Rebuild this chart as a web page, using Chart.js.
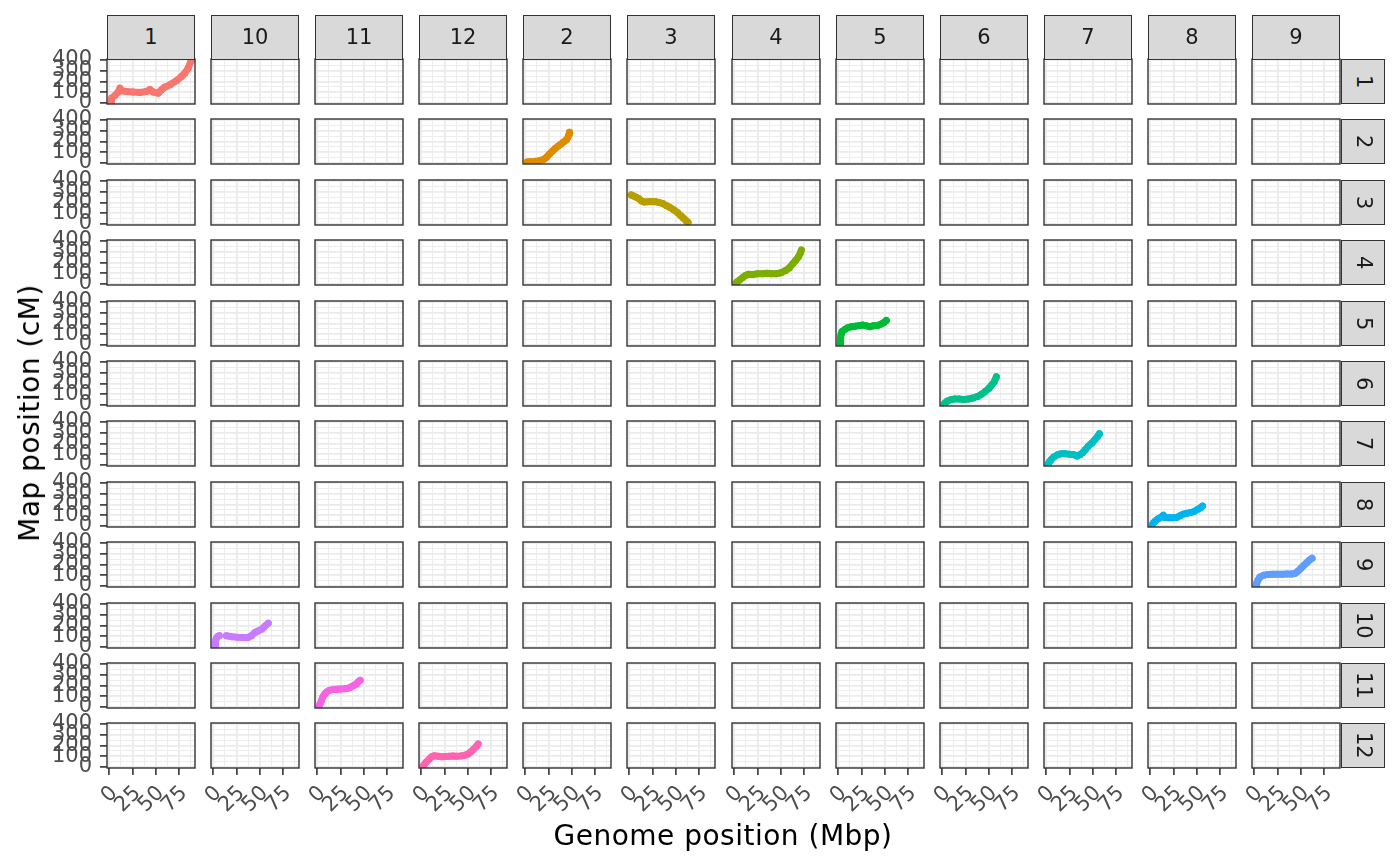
<!DOCTYPE html>
<html><head><meta charset="utf-8">
<script src="https://cdn.jsdelivr.net/npm/chart.js@4/dist/chart.umd.min.js"></script>
<style>
html,body{margin:0;padding:0;background:#fff;}
#wrap{position:relative;width:1400px;height:866px;overflow:hidden;font-family:"DejaVu Sans",sans-serif;background:#fff;}
canvas{position:absolute;}
.strip{position:absolute;box-sizing:border-box;background:#D9D9D9;border:1.3px solid #333;color:#1A1A1A;font-size:21px;display:flex;align-items:center;justify-content:center;line-height:1;}
.vert{writing-mode:vertical-rl;}
.title{position:absolute;color:#000;font-size:28px;line-height:28px;letter-spacing:0.5px;white-space:nowrap;}
</style></head><body><div id="wrap"></div>
<script>
// facet labels (columns are sorted as text, rows numerically)
const facetCols = ['1','10','11','12','2','3','4','5','6','7','8','9'];
const facetRows = ['1','2','3','4','5','6','7','8','9','10','11','12'];
const xMajor = [0, 25, 50, 75];
const xMinor = [12.5, 37.5, 62.5, 87.5];
const yMajor = [0, 100, 200, 300, 400];
const yMinor = [50, 150, 250, 350];
const xRange = [-2.5, 92];
const yRange = [-9, 409];
const xTitle = 'Genome position (Mbp)';
const yTitle = 'Map position (cM)';
const colors = ['#F8766D','#DE8C00','#B79F00','#7CAE00','#00BA38','#00C08B','#00BFC4','#00B4F0','#619CFF','#C77CFF','#F564E3','#FF64B0'];

// genome position (Mbp) and map position (cM) per chromosome
const chr1Pos = [2, 2.5, 6, 9.6, 11.4, 13.2, 18.6, 25.7, 32.9, 40, 43.6, 47, 52.5, 56, 59.6, 65, 72, 77.5, 81, 84.6, 87.7];
const chr1Map = [12, 46, 71, 102, 138, 114, 108, 102, 98, 108, 126, 102, 92, 123, 148, 169, 206, 246, 277, 323, 390];
const chr2Pos = [2, 5, 10, 15, 20, 23, 26, 29, 32, 35, 38, 41, 44, 46, 47, 47.5];
const chr2Map = [10, 12, 15, 22, 35, 55, 85, 110, 135, 155, 175, 195, 215, 245, 270, 285];
const chr3Pos = [2, 4, 7, 10, 13, 16, 20, 24, 28, 32, 36, 40, 44, 48, 52, 55, 58, 61, 63];
const chr3Map = [270, 262, 250, 238, 215, 205, 208, 210, 208, 200, 190, 170, 152, 130, 105, 80, 55, 30, 15];
const chr4Pos = [2, 3, 6, 9, 12, 15, 20, 25, 30, 35, 40, 45, 50, 55, 59, 63, 66, 69, 71, 72];
const chr4Map = [10, 20, 40, 60, 80, 90, 88, 95, 95, 100, 95, 95, 105, 125, 150, 190, 220, 255, 290, 315];
const chr5Pos = [2, 2.3, 2.6, 3, 4, 7, 10, 14, 18, 22, 26, 30, 34, 38, 42, 46, 49, 51.5];
const chr5Map = [12, 40, 70, 100, 125, 145, 160, 170, 175, 180, 185, 178, 170, 180, 182, 195, 210, 228];
const chr6Pos = [2, 3, 5, 9, 13, 18, 23, 28, 33, 38, 42, 46, 50, 53, 56, 58];
const chr6Map = [10, 18, 35, 50, 55, 55, 52, 55, 65, 80, 100, 125, 155, 185, 220, 262];
const chr7Pos = [2, 3, 5, 8, 12, 16, 20, 25, 29, 33, 36, 39, 42, 45, 49, 52, 55, 57];
const chr7Map = [10, 25, 50, 75, 95, 105, 105, 100, 98, 85, 95, 115, 145, 175, 205, 235, 265, 290];
const chr8Pos = [2, 3, 5, 8, 11, 14, 16, 20, 24, 28, 32, 35, 39, 43, 47, 51, 54, 56];
const chr8Map = [10, 25, 45, 65, 80, 100, 80, 78, 78, 80, 95, 110, 118, 125, 135, 155, 170, 185];
const chr9Pos = [2, 2.5, 4, 6, 10, 15, 20, 25, 30, 35, 40, 44, 47, 50, 53, 56, 59, 62];
const chr9Map = [10, 25, 55, 85, 100, 108, 110, 110, 110, 112, 112, 118, 140, 165, 190, 215, 240, 258];
const chr10Pos = [2, 2, 2.5, 3.5, 5, 6.5, 10, 14, 20, 26, 32, 37, 41, 44.6, 48, 52, 55, 59];
const chr10Map = [10, 35, 60, 85, 100, 105, null, 105, 95, 90, 89, 89, 105, 135, 150, 166, 190, 222];
const chr11Pos = [2, 3, 4.5, 6, 8, 10, 13, 17, 21, 25, 29, 33, 36, 39, 42, 44, 46];
const chr11Map = [10, 30, 60, 95, 120, 140, 155, 162, 165, 168, 170, 175, 185, 200, 215, 235, 248];
const chr12Pos = [2, 3, 5, 8, 11, 14, 18, 22, 26, 30, 34, 38, 42, 46, 50, 53, 56, 59, 61];
const chr12Map = [10, 20, 45, 70, 95, 105, 100, 95, 98, 100, 102, 100, 102, 108, 120, 140, 165, 190, 215];

const chromPos = [chr1Pos, chr2Pos, chr3Pos, chr4Pos, chr5Pos, chr6Pos, chr7Pos, chr8Pos, chr9Pos, chr10Pos, chr11Pos, chr12Pos];
const chromMap = [chr1Map, chr2Map, chr3Map, chr4Map, chr5Map, chr6Map, chr7Map, chr8Map, chr9Map, chr10Map, chr11Map, chr12Map];

const wrap = document.getElementById('wrap');
const PL = 107, PP = 104.09, PW = 88, PT = 59, RP = 60.39, PH = 45, YW = 100, XH = 60;
const FONT = {family: 'DejaVu Sans', size: 21};

const borderPlugin = {
  id: 'panelBorder',
  afterDatasetsDraw(chart) {
    const {ctx, chartArea: a} = chart;
    ctx.save();
    ctx.strokeStyle = '#333333';
    ctx.lineWidth = 1.4;
    ctx.strokeRect(a.left, a.top, a.right - a.left, a.bottom - a.top);
    ctx.restore();
  }
};

function isMaj(list, v) { return list.some(m => Math.abs(m - v) < 1e-9); }

facetRows.forEach((rowLab, r) => {
  facetCols.forEach((colLab, c) => {
    const left = Math.round(PL + c * PP), top = Math.round(PT + r * RP);
    const isLeft = c === 0, isBottom = r === facetRows.length - 1;
    const padL = isLeft ? 0 : 16, padT = 14, padR = 6, padB = isBottom ? 0 : 14;
    const cw = PW + padL + padR + (isLeft ? YW : 0);
    const ch = PH + padT + padB + (isBottom ? XH : 0);
    const cv = document.createElement('canvas');
    cv.width = cw; cv.height = ch;
    cv.style.left = (left - padL - (isLeft ? YW : 0)) + 'px';
    cv.style.top = (top - padT) + 'px';
    cv.style.width = cw + 'px'; cv.style.height = ch + 'px';
    wrap.appendChild(cv);

    const datasets = [];
    if (rowLab === colLab) {
      const i = Number(rowLab) - 1;
      const data = chromPos[i].map((x, k) => ({x: x, y: chromMap[i][k]}));
      datasets.push({
        data, borderColor: colors[i], backgroundColor: colors[i],
        showLine: true, borderWidth: 7, pointRadius: 3.5, pointBorderWidth: 0,
        borderCapStyle: 'round', borderJoinStyle: 'round', spanGaps: false, clip: 0
      });
    }

    new Chart(cv, {
      type: 'scatter',
      data: {datasets},
      plugins: [borderPlugin],
      options: {
        responsive: false, animation: false, events: [],
        layout: {padding: {left: padL, top: padT, right: padR, bottom: padB}},
        plugins: {legend: {display: false}, tooltip: {enabled: false}},
        scales: {
          x: {
            type: 'linear', min: xRange[0], max: xRange[1],
            afterBuildTicks: s => { s.ticks = xMajor.concat(xMinor).sort((a, b) => a - b).map(v => ({value: v})); },
            afterFit: s => { s.height = isBottom ? XH : 0; s.paddingLeft = 0; s.paddingRight = 0; },
            border: {display: false},
            grid: {
              drawTicks: isBottom, tickLength: 7, tickWidth: 1.6,
              color: '#EBEBEB',
              lineWidth: ctx => isMaj(xMajor, ctx.tick.value) ? 1.8 : 0.9,
              tickColor: ctx => isMaj(xMajor, ctx.tick.value) ? '#333333' : 'rgba(0,0,0,0)'
            },
            ticks: {
              display: isBottom, autoSkip: false, minRotation: 45, maxRotation: 45,
              font: FONT, color: '#4D4D4D', padding: 6, labelOffset: 5,
              callback: v => isMaj(xMajor, v) ? String(v) : ''
            }
          },
          y: {
            type: 'linear', min: yRange[0], max: yRange[1],
            afterBuildTicks: s => { s.ticks = yMajor.concat(yMinor).sort((a, b) => a - b).map(v => ({value: v})); },
            afterFit: s => { s.width = isLeft ? YW : 0; s.paddingTop = 0; s.paddingBottom = 0; },
            border: {display: false},
            grid: {
              drawTicks: isLeft, tickLength: 7, tickWidth: 1.6,
              color: '#EBEBEB',
              lineWidth: ctx => isMaj(yMajor, ctx.tick.value) ? 1.8 : 0.9,
              tickColor: ctx => isMaj(yMajor, ctx.tick.value) ? '#333333' : 'rgba(0,0,0,0)'
            },
            ticks: {
              display: isLeft, autoSkip: false,
              font: FONT, color: '#4D4D4D', padding: 8,
              callback: v => isMaj(yMajor, v) ? String(v) : ''
            }
          }
        }
      }
    });
  });
});

// strips
facetCols.forEach((lab, c) => {
  const d = document.createElement('div');
  d.className = 'strip';
  d.style.left = Math.round(PL + c * PP) + 'px';
  d.style.top = '15px';
  d.style.width = PW + 'px';
  d.style.height = (PT - 15 + 1) + 'px';
  d.textContent = lab;
  wrap.appendChild(d);
});
facetRows.forEach((lab, r) => {
  const d = document.createElement('div');
  d.className = 'strip';
  d.style.left = '1341px';
  d.style.top = Math.round(PT + r * RP) + 'px';
  d.style.width = '44px';
  d.style.height = PH + 'px';
  const s = document.createElement('span');
  s.className = 'vert';
  s.textContent = lab;
  d.appendChild(s);
  wrap.appendChild(d);
});

// axis titles
const xt = document.createElement('div');
xt.className = 'title';
xt.textContent = xTitle;
xt.style.left = '723px'; xt.style.top = '822px';
xt.style.transform = 'translateX(-50%)';
wrap.appendChild(xt);
const yt = document.createElement('div');
yt.className = 'title';
yt.textContent = yTitle;
yt.style.left = '30px'; yt.style.top = '413px';
yt.style.transform = 'translate(-50%,-50%) rotate(-90deg)';
wrap.appendChild(yt);
</script></body></html>
